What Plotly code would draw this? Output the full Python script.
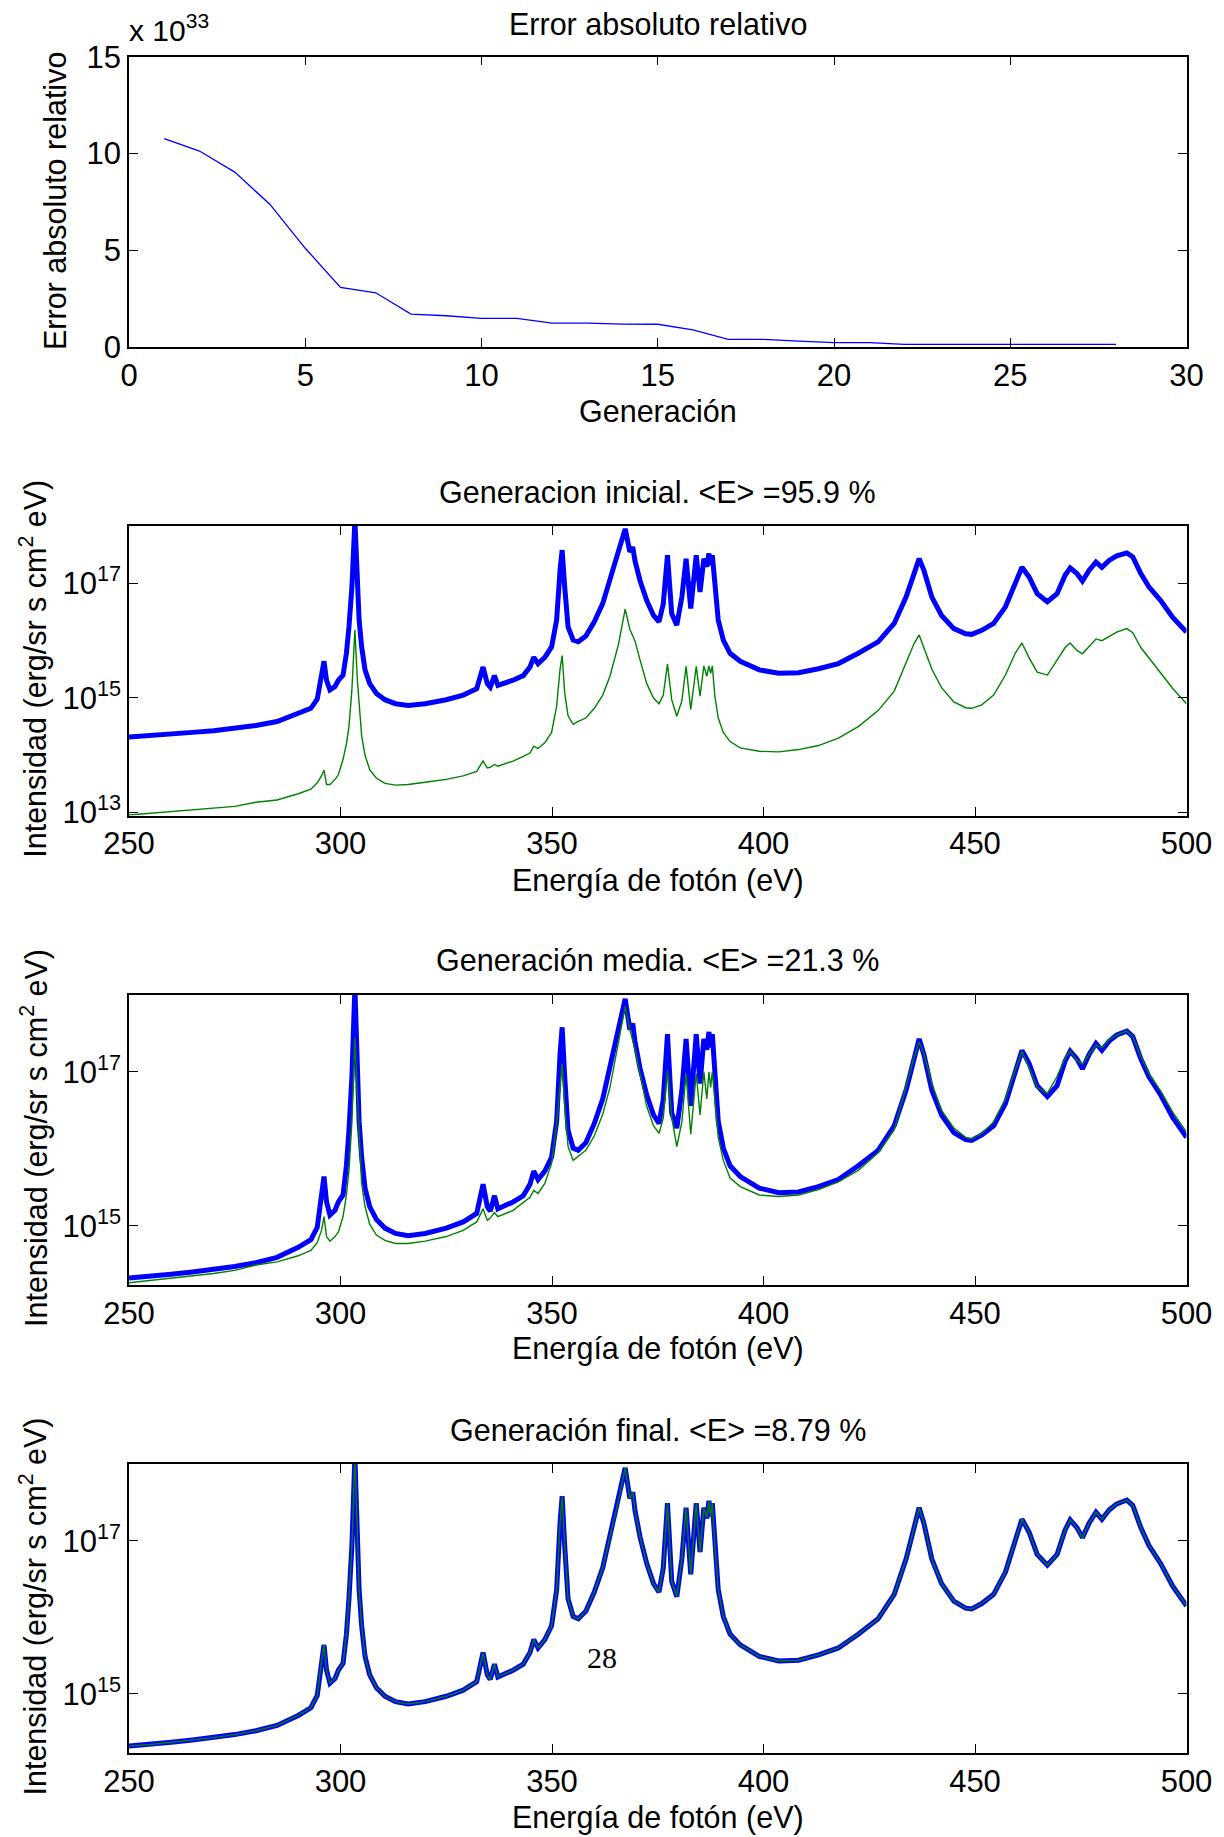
import plotly.graph_objects as go

# ---------------- Data ----------------
generation = list(range(1, 29))
error_e33 = [10.76, 10.12, 9.03, 7.36, 5.09, 3.07, 2.79, 1.69, 1.60, 1.47,
             1.47, 1.22, 1.22, 1.17, 1.16, 0.87, 0.38, 0.38, 0.29, 0.21,
             0.21, 0.12, 0.12, 0.12, 0.12, 0.12, 0.12, 0.12]

energy_ev = [250, 255, 260, 265, 270, 275, 280, 285, 290, 293,
             294.5, 295.5, 296.1, 296.7, 297.5, 298.7, 299.5, 300.6, 301.4, 302.0,
             302.7, 303.4, 304.0, 304.4, 305.0, 305.8, 306.9, 308.5, 310.5, 313,
             316, 320, 325, 329, 332.2, 333.7, 334.7, 335.4, 336.4, 337.2,
             340.8, 343.2, 344.8, 345.7, 346.7, 348.3, 349.9, 351.1, 351.9, 352.4,
             353.0, 353.8, 355.0, 356.2, 358, 360, 362, 363.7, 365.7, 367.3,
             368.4, 369.1, 369.6, 370.8, 372.4, 374.0, 375.3, 376.3, 377.3, 378.3,
             379.5, 380.7, 381.7, 382.8, 384.1, 385.0, 385.9, 386.6, 387.1, 387.5,
             387.9, 388.5, 389.3, 390.5, 392.1, 394.5, 399, 403.6, 408.3, 413,
             417.7, 422.4, 427.1, 430.9, 433.7, 435.6, 436.8, 437.9, 439.8, 442.1,
             445, 447.8, 449.2, 451.6, 454.4, 457.2, 459.5, 461.1, 462.8, 464.7,
             467.1, 469.4, 471.3, 472.5, 474.1, 475.4, 477, 478.6, 480, 481.7,
             483.5, 485.9, 487.3, 489.2, 491.1, 493.9, 496.7, 500]

# log10 of intensity, measured spectrum (blue)
measured_log10 = [14.32, 14.34, 14.37, 14.40, 14.43, 14.47, 14.52, 14.59, 14.72, 14.82,
                  14.98, 15.43, 15.64, 15.31, 15.14, 15.20, 15.31, 15.40, 15.78, 16.24,
                  16.94, 18.10, 16.94, 16.36, 15.89, 15.49, 15.25, 15.08, 14.97, 14.90,
                  14.87, 14.90, 14.97, 15.05, 15.16, 15.54, 15.25, 15.19, 15.39, 15.22,
                  15.31, 15.39, 15.54, 15.71, 15.60, 15.71, 15.89, 16.36, 17.23, 17.58,
                  16.94, 16.24, 16.01, 15.98, 16.08, 16.33, 16.65, 17.05, 17.52, 17.95,
                  17.55, 17.63, 17.40, 17.05, 16.70, 16.44, 16.33, 16.64, 17.49, 16.47,
                  16.27, 16.76, 17.43, 16.56, 17.49, 16.85, 17.43, 17.29, 17.52, 17.32,
                  17.49, 16.94, 16.36, 16.01, 15.78, 15.64, 15.49, 15.43, 15.44, 15.51,
                  15.60, 15.78, 15.98, 16.30, 16.76, 17.17, 17.43, 17.23, 16.76, 16.44,
                  16.21, 16.12, 16.11, 16.18, 16.30, 16.59, 16.99, 17.28, 17.11, 16.82,
                  16.68, 16.82, 17.14, 17.27, 17.17, 17.04, 17.23, 17.37, 17.28, 17.40,
                  17.48, 17.53, 17.46, 17.17, 16.94, 16.70, 16.41, 16.15]

# log10 of intensity, initial generation fit (green)
initial_log10 = [12.96, 12.99, 13.02, 13.04, 13.07, 13.11, 13.18, 13.22, 13.33, 13.41,
                 13.52, 13.64, 13.74, 13.49, 13.49, 13.58, 13.66, 13.93, 14.20, 14.50,
                 15.15, 16.19, 15.30, 14.90, 14.34, 14.00, 13.75, 13.60, 13.51, 13.48,
                 13.49, 13.53, 13.58, 13.64, 13.72, 13.90, 13.78, 13.79, 13.84, 13.81,
                 13.90, 13.98, 14.04, 14.16, 14.12, 14.22, 14.40, 14.86, 15.50, 15.74,
                 15.09, 14.69, 14.54, 14.59, 14.65, 14.82, 15.05, 15.38, 15.93, 16.55,
                 16.20, 16.08, 16.00, 15.67, 15.25, 15.00, 14.90, 15.05, 15.59, 14.97,
                 14.68, 14.95, 15.55, 14.80, 15.55, 15.03, 15.56, 15.38, 15.56, 15.43,
                 15.56, 15.03, 14.65, 14.40, 14.24, 14.13, 14.07, 14.06, 14.10, 14.17,
                 14.30, 14.50, 14.78, 15.12, 15.60, 15.95, 16.10, 15.89, 15.50, 15.18,
                 14.93, 14.83, 14.82, 14.88, 15.05, 15.40, 15.78, 15.96, 15.70, 15.45,
                 15.40, 15.66, 15.88, 15.96, 15.83, 15.77, 15.90, 16.03, 16.00, 16.08,
                 16.15, 16.21, 16.14, 15.88, 15.70, 15.45, 15.17, 14.90]

# log10 of intensity, middle generation fit (green)
middle_log10 = [14.26, 14.29, 14.32, 14.35, 14.38, 14.42, 14.49, 14.53, 14.61, 14.68,
                14.78, 14.94, 15.12, 14.86, 14.80, 14.86, 14.92, 15.12, 15.40, 15.72,
                16.35, 17.44, 16.60, 16.20, 15.55, 15.25, 15.02, 14.88, 14.81, 14.77,
                14.77, 14.80, 14.86, 14.94, 15.05, 15.22, 15.07, 15.10, 15.17, 15.12,
                15.20, 15.30, 15.37, 15.46, 15.42, 15.55, 15.81, 16.33, 16.85, 17.11,
                16.55, 16.03, 15.85, 15.90, 15.98, 16.17, 16.45, 16.80, 17.41, 17.85,
                17.55, 17.42, 17.30, 16.98, 16.55, 16.30, 16.20, 16.40, 17.02, 16.41,
                16.03, 16.35, 16.98, 16.19, 16.98, 16.44, 17.00, 16.65, 17.00, 16.80,
                17.00, 16.63, 16.15, 15.85, 15.62, 15.51, 15.40, 15.38, 15.40, 15.47,
                15.57, 15.72, 15.95, 16.25, 16.81, 17.19, 17.39, 17.24, 16.85, 16.50,
                16.27, 16.15, 16.13, 16.20, 16.35, 16.65, 17.02, 17.27, 17.05, 16.80,
                16.72, 16.94, 17.18, 17.27, 17.15, 17.10, 17.23, 17.35, 17.32, 17.42,
                17.48, 17.53, 17.46, 17.20, 16.98, 16.75, 16.48, 16.22]

# final generation fit lies on the measured spectrum
final_log10 = measured_log10

assert len(energy_ev) == len(measured_log10) == len(initial_log10) == len(middle_log10)

panel_titles = ["Error absoluto relativo",
                "Generacion inicial. &lt;E&gt; =95.9 %",
                "Generación media. &lt;E&gt; =21.3 %",
                "Generación final. &lt;E&gt; =8.79 %"]

# ---------------- Figure ----------------
W, H = 1224, 1837
FONT = "Liberation Sans, Arial, sans-serif"
BLUE = "#0000FF"
GREEN = "#008000"

def px_x(x):
    return x / W

def px_y(y):
    return 1 - y / H

left, right = 129, 1186.5
panels = [(56.7, 346.7), (526.0, 815.5), (995.0, 1285.0), (1464.0, 1753.0)]

fig = go.Figure()

fig.add_trace(go.Scatter(x=generation, y=error_e33, mode="lines",
                         line=dict(color=BLUE, width=1.3), xaxis="x", yaxis="y"))

spec = [(measured_log10, initial_log10), (measured_log10, middle_log10),
        (measured_log10, final_log10)]
for i, (meas, fit) in enumerate(spec, start=2):
    fig.add_trace(go.Scatter(x=energy_ev, y=[10 ** v for v in meas], mode="lines",
                             line=dict(color=BLUE, width=5),
                             xaxis=f"x{i}", yaxis=f"y{i}"))
    fig.add_trace(go.Scatter(x=energy_ev, y=[10 ** v for v in fit], mode="lines",
                             line=dict(color=GREEN, width=1.4),
                             xaxis=f"x{i}", yaxis=f"y{i}"))

axis_common = dict(showline=True, linecolor="black", linewidth=1.5, mirror="allticks",
                   ticks="inside", ticklen=9, tickwidth=1.2, tickcolor="black",
                   showgrid=False, zeroline=False, automargin=False,
                   tickfont=dict(family=FONT, size=31, color="black"))

layout = dict(width=W, height=H, margin=dict(l=0, r=0, t=0, b=0, autoexpand=False),
              paper_bgcolor="white", plot_bgcolor="white", showlegend=False)

dom_x = [px_x(left), px_x(right)]
for i, (top, bot) in enumerate(panels, start=1):
    xa = "xaxis" if i == 1 else f"xaxis{i}"
    ya = "yaxis" if i == 1 else f"yaxis{i}"
    anchor_y = "y" if i == 1 else f"y{i}"
    anchor_x = "x" if i == 1 else f"x{i}"
    if i == 1:
        layout[xa] = dict(axis_common, domain=dom_x, anchor=anchor_y, range=[0, 30],
                          tickvals=[0, 5, 10, 15, 20, 25, 30])
        layout[ya] = dict(axis_common, domain=[px_y(bot), px_y(top)], anchor=anchor_x,
                          range=[0, 15], tickvals=[0, 5, 10, 15])
    else:
        layout[xa] = dict(axis_common, domain=dom_x, anchor=anchor_y, range=[250, 500],
                          tickvals=[250, 300, 350, 400, 450, 500])
        if i == 2:
            yr = [12.95, 18.0]
            tv = [1e13, 1e15, 1e17]
            tt = ["10<sup>13</sup>", "10<sup>15</sup>", "10<sup>17</sup>"]
        else:
            yr = [14.23, 18.0]
            tv = [1e15, 1e17]
            tt = ["10<sup>15</sup>", "10<sup>17</sup>"]
        layout[ya] = dict(axis_common, domain=[px_y(bot), px_y(top)], anchor=anchor_x,
                          type="log", range=yr, tickvals=tv, ticktext=tt)

fig.update_layout(**layout)

ann = []
def add_text(text, x, y, size=30.5, angle=0, xanchor="center", family=FONT):
    ann.append(dict(text=text, x=px_x(x), y=px_y(y), xref="paper", yref="paper",
                    showarrow=False, xanchor=xanchor, yanchor="middle",
                    textangle=angle, font=dict(family=family, size=size, color="black")))

cx = (left + right) / 2
add_text(panel_titles[0], cx, 24)
add_text("x 10<sup>33</sup>", left - 2, 28, size=30, xanchor="left")
add_text("Generación", cx, 411)
add_text("Error absoluto relativo", 55, 201, angle=-90)

title_y = [492, 960, 1430]
xlabel_y = [880, 1348, 1817]
for k, (top, bot) in enumerate(panels[1:]):
    add_text(panel_titles[k + 1], cx, title_y[k])
    add_text("Energía de fotón (eV)", cx, xlabel_y[k])
    add_text("Intensidad (erg/sr s cm<sup>2</sup> eV)", 34, (top + bot) / 2 - 2, angle=-90)

add_text("28", 602, 1657, size=30, family="Liberation Serif, Times New Roman, serif")

fig.update_layout(annotations=ann)
fig.write_html("out.html")
